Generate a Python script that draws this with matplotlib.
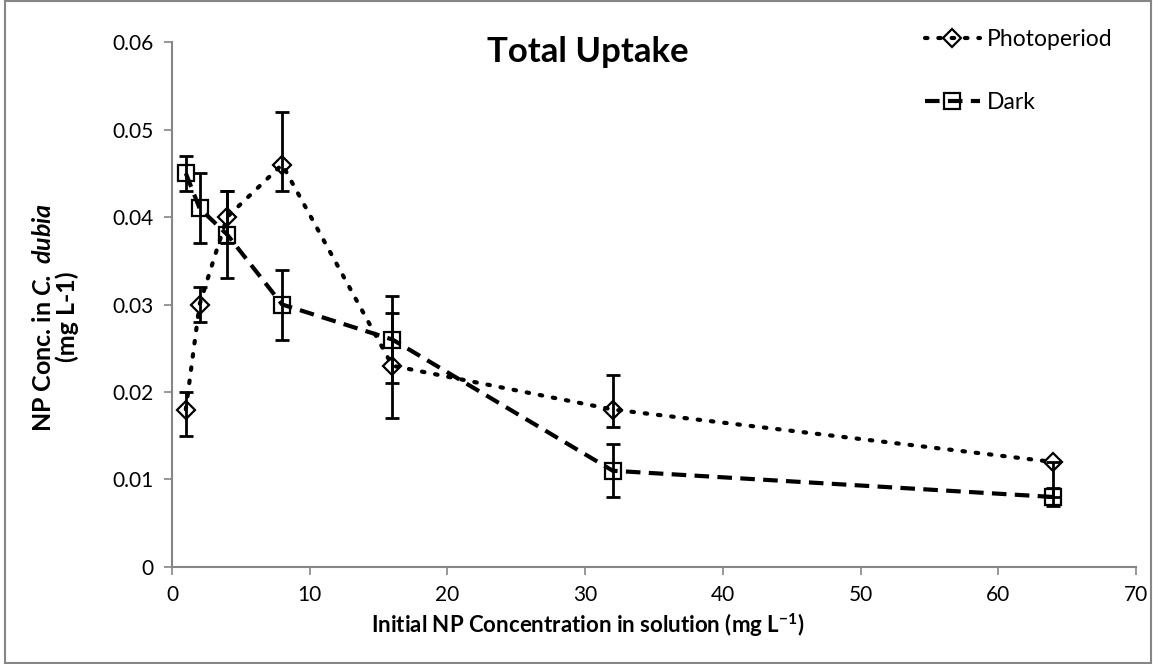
import matplotlib.pyplot as plt
from matplotlib.patches import Rectangle

plt.rcParams["font.family"] = ["Lato", "DejaVu Sans"]
plt.rcParams["mathtext.fontset"] = "custom"
plt.rcParams["mathtext.rm"] = "Lato"
plt.rcParams["mathtext.it"] = "Lato:italic"
plt.rcParams["mathtext.bf"] = "Lato:bold"
plt.rcParams["mathtext.bfit"] = "Lato:italic:bold"

conc = [1, 2, 4, 8, 16, 32, 64]

photo = [0.018, 0.030, 0.040, 0.046, 0.023, 0.018, 0.012]
photo_lo = [0.003, 0.002, 0.003, 0.003, 0.006, 0.002, 0.004]
photo_hi = [0.002, 0.002, 0.003, 0.006, 0.006, 0.004, 0.0]

dark = [0.045, 0.041, 0.038, 0.030, 0.026, 0.011, 0.008]
dark_lo = [0.002, 0.004, 0.005, 0.004, 0.005, 0.003, 0.001]
dark_hi = [0.002, 0.004, 0.005, 0.004, 0.005, 0.003, 0.001]

x_ticks = [0, 10, 20, 30, 40, 50, 60, 70]
y_ticks = [0, 0.01, 0.02, 0.03, 0.04, 0.05, 0.06]
y_labels = ["0", "0.01", "0.02", "0.03", "0.04", "0.05", "0.06"]

fig = plt.figure(figsize=(11.53, 6.64), dpi=100)
ax = fig.add_axes([0.1492, 0.1461, 0.8361, 0.7906])

ax.errorbar(conc, photo, yerr=[photo_lo, photo_hi], fmt="none", ecolor="black",
            elinewidth=2, capsize=5, capthick=2, zorder=2)
ax.errorbar(conc, dark, yerr=[dark_lo, dark_hi], fmt="none", ecolor="black",
            elinewidth=2, capsize=5, capthick=2, zorder=2)

ax.plot(conc, photo, linestyle=(0, (0.6, 2.6)), dash_capstyle="round", linewidth=3,
        color="black", marker="D", markersize=9, markerfacecolor="none",
        markeredgecolor="black", markeredgewidth=1.6, label="Photoperiod", zorder=3)
ax.plot(conc, dark, linestyle=(0, (3.5, 2.0)), linewidth=3, color="black",
        marker="s", markersize=12, markerfacecolor="none",
        markeredgecolor="black", markeredgewidth=1.6, label="Dark", zorder=3)

ax.set_xlim(0, 70)
ax.set_ylim(0, 0.06)
ax.set_xticks(x_ticks)
ax.set_yticks(y_ticks)
ax.set_yticklabels(y_labels)
ax.tick_params(axis="both", labelsize=15, colors="#868686", labelcolor="black",
               length=6, width=1.2, direction="out")
ax.tick_params(axis="x", pad=7)
ax.tick_params(axis="y", pad=7)

for side in ["top", "right"]:
    ax.spines[side].set_visible(False)
for side in ["left", "bottom"]:
    ax.spines[side].set_color("#868686")
    ax.spines[side].set_linewidth(1.5)

# Labels and title sit centred on the whole chart, not on the plot area
ax.set_xlabel(r"Initial NP Concentration in solution (mg L$^{\mathbf{-1}}$)",
              fontsize=16, fontweight="bold")
ax.xaxis.set_label_coords((0.51 * 1153 - 172) / 964, -0.085)
ax.set_ylabel("NP Conc. in $\\mathbfit{C.\\ dubia}$\n(mg L-1)",
              fontsize=18, fontweight="bold", linespacing=1.0)
ax.yaxis.set_label_coords(-0.097, 0.476)

fig.text(0.51, 0.922, "Total Uptake", ha="center", va="center",
         fontsize=25, fontweight="bold")

ax.legend(loc="upper left", bbox_to_anchor=(0.781, 1.024), frameon=False, fontsize=16.5,
          labelspacing=1.8, handlelength=2.4, handletextpad=0.3,
          borderpad=0, borderaxespad=0)

fig.add_artist(Rectangle((0.004, 0.002), 0.994, 0.996, transform=fig.transFigure,
                         fill=False, edgecolor="#868686", linewidth=1.5))

fig.savefig("out.png", dpi=100)
